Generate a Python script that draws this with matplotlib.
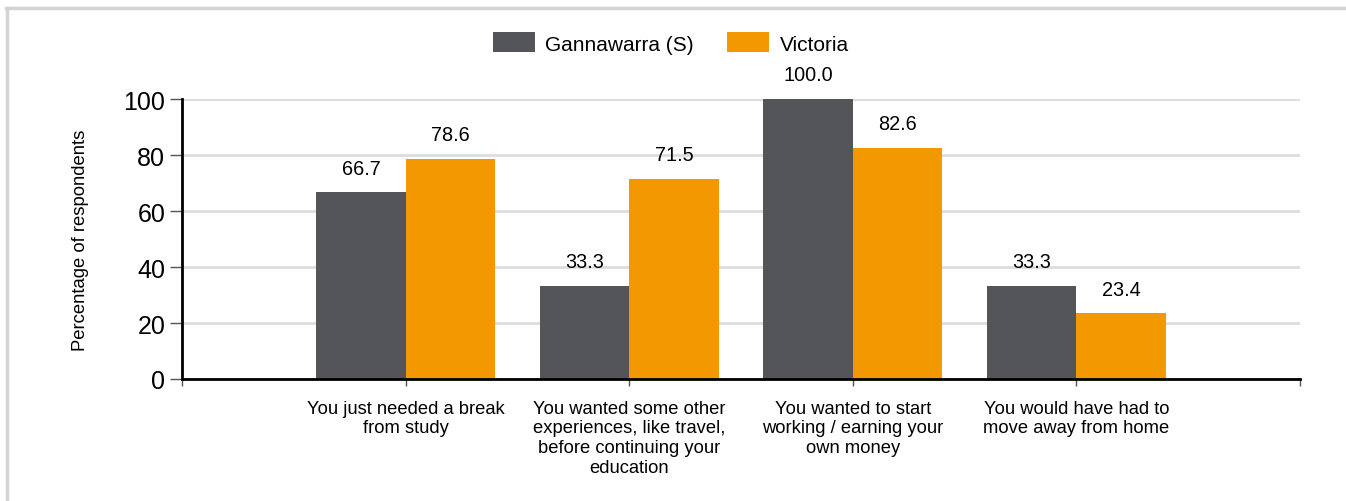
import numpy as np
import matplotlib
matplotlib.use("Agg")
import matplotlib.pyplot as plt
from matplotlib.lines import Line2D

plt.rcParams['font.family'] = ['Liberation Sans', 'DejaVu Sans']

# data
categories = ["You just needed a break\nfrom study",
              "You wanted some other\nexperiences, like travel,\nbefore continuing your\neducation",
              "You wanted to start\nworking / earning your\nown money",
              "You would have had to\nmove away from home"]
gannawarra = [66.7, 33.3, 100.0, 33.3]
victoria = [78.6, 71.5, 82.6, 23.4]
series_names = ["Gannawarra (S)", "Victoria"]
colors = ["#535559", "#f39800"]

fig = plt.figure(figsize=(13.46, 5.02), dpi=100)
ax = fig.add_axes([182/1346, 1 - 380/502, (1300 - 182)/1346, 280/502])

x = np.arange(len(categories))
w = 0.4
b1 = ax.bar(x - w/2, gannawarra, w, color=colors[0], label=series_names[0], zorder=3)
b2 = ax.bar(x + w/2, victoria, w, color=colors[1], label=series_names[1], zorder=3)

for bars, vals in ((b1, gannawarra), (b2, victoria)):
    for r, v in zip(bars, vals):
        ax.annotate(f"{v:.1f}", (r.get_x() + r.get_width()/2, v), xytext=(0, 10.5),
                    textcoords="offset points", ha="center", va="bottom", fontsize=14.3)

ax.set_xlim(-1, 4)
ax.set_ylim(0, 100)
ax.set_yticks([0, 20, 40, 60, 80, 100])
ax.tick_params(axis='y', labelsize=18, length=9, width=1, color='#555555', pad=3)
ax.set_xticks([-1, 0, 1, 2, 3, 4])
ax.set_xticklabels([""] + categories + [""], fontsize=13.2, linespacing=1.2)
ax.tick_params(axis='x', length=5, width=1, color='#555555', pad=10)
ax.yaxis.grid(True, color='#dddddd', linewidth=2, zorder=0)
ax.set_axisbelow(True)
for s in ['top', 'right']:
    ax.spines[s].set_visible(False)
ax.spines['left'].set_linewidth(2)
ax.spines['bottom'].set_linewidth(2)
ax.spines['left'].set_zorder(4)
ax.spines['bottom'].set_zorder(4)

ax.set_ylabel("Percentage of respondents", fontsize=13.3, labelpad=25)

fig.legend(handles=[b1, b2], loc='center', bbox_to_anchor=(671/1346, 1 - 44/502),
           ncol=2, frameon=False, fontsize=15, handlelength=2.0, handleheight=1.1,
           columnspacing=1.6, handletextpad=0.5)

# light frame (top and left edges visible)
fig.add_artist(Line2D([6/1346, 1], [1 - 9/502, 1 - 9/502], transform=fig.transFigure,
                      color='#d4d4d4', linewidth=2.5))
fig.add_artist(Line2D([7/1346, 7/1346], [0, 1 - 9/502], transform=fig.transFigure,
                      color='#d4d4d4', linewidth=2.5))

fig.savefig("out.png", dpi=100)
